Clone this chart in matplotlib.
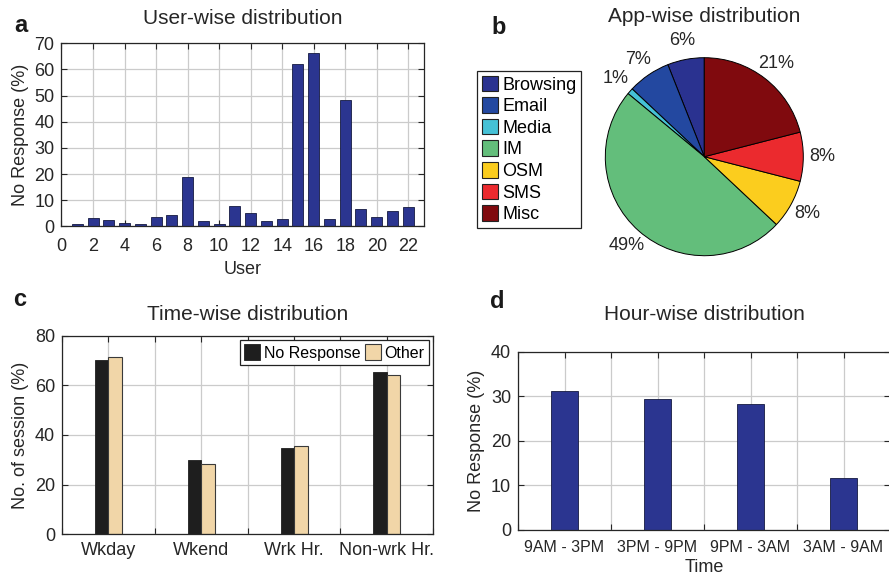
import numpy as np
import matplotlib
matplotlib.use("Agg")
import matplotlib.pyplot as plt
from matplotlib.patches import Patch
from matplotlib.ticker import MultipleLocator, FixedLocator

plt.rcParams['font.family'] = ['Liberation Sans', 'DejaVu Sans']
plt.rcParams['font.size'] = 13

# ---- data ----
users = list(range(1, 23))
user_no_response = [0.9, 3.2, 2.3, 1.3, 1.0, 3.7, 4.5, 19.0, 2.0, 1.0, 7.9,
                    5.1, 2.0, 2.9, 62.1, 66.2, 2.9, 48.3, 6.5, 3.4, 5.7, 7.5]

apps = ['Browsing', 'Email', 'Media', 'IM', 'OSM', 'SMS', 'Misc']
app_share = [6, 7, 1, 49, 8, 8, 21]
app_colors = ['#2A3290', '#2348A0', '#45C1D6', '#63BE7B', '#FBCD1E', '#EB2A2E', '#800A0E']

time_groups = ['Wkday', 'Wkend', 'Wrk Hr.', 'Non-wrk Hr.']
time_no_response = [70.2, 29.9, 34.8, 65.5]
time_other = [71.5, 28.3, 35.4, 64.2]

hour_slots = ['9AM - 3PM', '3PM - 9PM', '9PM - 3AM', '3AM - 9AM']
hour_no_response = [31.1, 29.4, 28.3, 11.7]

W, H = 889, 578
NAVY = '#2B3590'
GRID = '#CBCBCB'
SPINE = '#262626'
TXT = '#262626'

fig = plt.figure(figsize=(W / 100, H / 100), dpi=100)


def px_axes(left, top, right, bottom):
    return fig.add_axes([left / W, 1 - bottom / H, (right - left) / W, (bottom - top) / H])


def style(ax, xpad):
    ax.set_axisbelow(True)
    for s in ax.spines.values():
        s.set_color(SPINE)
        s.set_linewidth(0.9)
    ax.tick_params(which='both', direction='in', top=True, right=True,
                   length=4, width=0.8, color=SPINE, labelcolor=TXT, labelsize=13)
    ax.tick_params(axis='x', which='major', pad=xpad)
    ax.tick_params(axis='y', which='major', pad=5)
    ax.grid(True, which='both', color=GRID, linewidth=0.9)


# ---- a: user-wise ----
ax_a = px_axes(61.5, 43.3, 424, 226.3)
ax_a.bar(users, user_no_response, width=0.7, color=NAVY, edgecolor='#151A40', linewidth=0.6)
ax_a.set_xlim(0, 23)
ax_a.set_ylim(0, 70)
ax_a.xaxis.set_major_locator(MultipleLocator(2))
ax_a.yaxis.set_major_locator(MultipleLocator(10))
style(ax_a, xpad=8.5)
ax_a.set_xlabel('User', fontsize=13, color=TXT, labelpad=4)
ax_a.set_ylabel('No Response (%)', fontsize=13, color=TXT, labelpad=4)
ax_a.set_title('User-wise distribution', fontsize=15, color=TXT, pad=14)

# ---- b: app-wise pie ----
cx, cy, r = 704.3, 156.7, 99
ax_b = px_axes(cx - r, cy - r, cx + r, cy + r)
ax_b.pie(app_share, colors=app_colors, startangle=90, counterclock=True,
         autopct=lambda p: f'{p:.0f}%', pctdistance=1.19, radius=1,
         wedgeprops=dict(edgecolor='black', linewidth=0.7),
         textprops=dict(fontsize=13, color=TXT))
ax_b.set_xlim(-1, 1)
ax_b.set_ylim(-1, 1)
ax_b.set_aspect('equal')
ax_b.axis('off')
fig.text(cx / W, 1 - 16 / H, 'App-wise distribution', fontsize=15, color=TXT,
         ha='center', va='center')
handles_b = [Patch(facecolor=c, edgecolor='#222222', linewidth=0.8) for c in app_colors]
leg_b = fig.legend(handles_b, apps, loc='upper left',
                   bbox_to_anchor=(477.3 / W, 1 - 71 / H), fontsize=13,
                   handlelength=0.9, handleheight=0.95, handletextpad=0.25,
                   labelspacing=0.2, borderpad=0.25, borderaxespad=0,
                   fancybox=False, framealpha=1, edgecolor='#222222')
leg_b.get_frame().set_linewidth(0.9)

# ---- c: time-wise ----
ax_c = px_axes(62, 335.7, 433.3, 534.3)
x = np.arange(1, 5)
bw = 0.145
ax_c.bar(x - bw / 2, time_no_response, width=bw, color='#1E1E1E', edgecolor='#1E1E1E',
         linewidth=0.6, label='No Response')
ax_c.bar(x + bw / 2, time_other, width=bw, color='#F1D6A8', edgecolor='#3A3A3A',
         linewidth=0.8, label='Other')
ax_c.set_xlim(0.5, 4.5)
ax_c.set_ylim(0, 80)
ax_c.xaxis.set_major_locator(FixedLocator(x))
ax_c.xaxis.set_minor_locator(FixedLocator([0.5, 1.5, 2.5, 3.5, 4.5]))
ax_c.set_xticklabels(time_groups)
ax_c.yaxis.set_major_locator(MultipleLocator(20))
style(ax_c, xpad=5.5)
ax_c.set_ylabel('No. of session (%)', fontsize=13, color=TXT, labelpad=4)
ax_c.set_title('Time-wise distribution', fontsize=15, color=TXT, pad=11)
leg_c = ax_c.legend(loc='upper right', ncol=2, fontsize=11.5, handlelength=1.0,
                    handleheight=1.1, handletextpad=0.25, columnspacing=0.25,
                    borderpad=0.25, borderaxespad=0.3, fancybox=False,
                    framealpha=1, edgecolor='#222222')
leg_c.get_frame().set_linewidth(0.9)

# ---- d: hour-wise ----
ax_d = px_axes(518, 351.7, 890, 530)
xd = np.arange(1, 5)
ax_d.bar(xd, hour_no_response, width=0.3, color=NAVY, edgecolor='#151A40', linewidth=0.6)
ax_d.set_xlim(0.5, 4.5)
ax_d.set_ylim(0, 40)
ax_d.xaxis.set_major_locator(FixedLocator(xd))
ax_d.xaxis.set_minor_locator(FixedLocator([0.5, 1.5, 2.5, 3.5, 4.5]))
ax_d.set_xticklabels(hour_slots)
ax_d.yaxis.set_major_locator(MultipleLocator(10))
style(ax_d, xpad=7)
ax_d.tick_params(axis='x', which='major', labelsize=11.5)
ax_d.set_xlabel('Time', fontsize=13, color=TXT, labelpad=3)
ax_d.set_ylabel('No Response (%)', fontsize=13, color=TXT, labelpad=4)
fig.text(704 / W, 1 - 315 / H, 'Hour-wise distribution', fontsize=15, color=TXT,
         ha='center', va='center')

# ---- panel letters ----
for lx, ly, letter in [(21, 25, 'a'), (499, 27, 'b'), (20, 300, 'c'), (497, 302, 'd')]:
    fig.text(lx / W, 1 - ly / H, letter, fontsize=17, fontweight='bold',
             color='#1A1A1A', ha='center', va='center')

fig.savefig('out.png', dpi=100)
